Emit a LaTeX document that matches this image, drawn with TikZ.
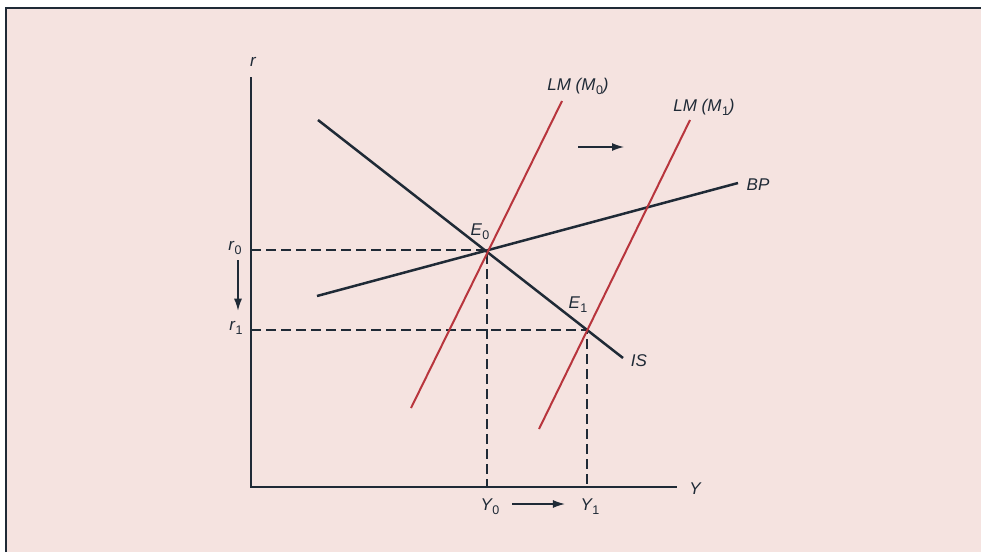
\documentclass[tikz,border=0pt]{standalone}
\usepackage{fontspec}
\setmainfont{Liberation Sans}
\usetikzlibrary{calc,arrows.meta}
\definecolor{Paper}{HTML}{F5E3E0}
\definecolor{Ink}{HTML}{1F2A36}
\definecolor{LMRed}{HTML}{B8353D}
\newcommand{\ix}[1]{\kern0.5pt\raisebox{-0.45ex}{\upshape\fontsize{12.5}{14}\selectfont #1}}

\begin{document}
\begin{tikzpicture}[x=1pt, y=-1pt,
    lbl/.style={Ink, inner sep=1pt, font=\fontsize{17}{20}\selectfont\itshape},
    curve/.style={Ink, line width=2.5pt},
    lmcurve/.style={LMRed, line width=2pt},
    guide/.style={Ink, line width=1.2pt, dash pattern=on 10pt off 5pt},
    movearrow/.style={Ink, line width=1.3pt, -{Latex[length=12pt, width=8pt]}}]

    \useasboundingbox (0,0) rectangle (981,552);
    \fill[white] (0,0) rectangle (981,552);
    \fill[Paper] (6,8) rectangle (981,552);
    \draw[Ink, line width=1.6pt] (6,552) -- (6,8) -- (981,8);

    % axes
    \coordinate (O) at (251,487);
    \coordinate (rtop) at (251,77);
    \coordinate (yend) at (677,487);
    \draw[Ink, line width=1.8pt] (rtop) -- (O) -- (yend);
    \node[lbl] (r) at (253,62) {r};
    \node[lbl] (Y) at (695,489) {Y};

    % equilibria
    \coordinate (E0) at (487,250);
    \coordinate (E1) at (587,330);

    % guide lines
    \coordinate (r0axis) at (O |- E0);
    \coordinate (r1axis) at (O |- E1);
    \coordinate (Y0axis) at (E0 |- O);
    \coordinate (Y1axis) at (E1 |- O);
    \draw[guide] (r0axis) -- (E0) -- (Y0axis);
    \draw[guide] (r1axis) -- (E1) -- (Y1axis);

    % IS and BP
    \coordinate (IS-a) at (318,120);
    \coordinate (IS-b) at (623,358);
    \coordinate (BP-a) at (317,296);
    \coordinate (BP-b) at (738,183);
    \draw[curve] (IS-a) -- (IS-b);
    \draw[curve] (BP-a) -- (BP-b);

    % LM curves
    \coordinate (LM0-a) at (411,408);
    \coordinate (LM0-b) at (562,101);
    \coordinate (LM1-a) at (539,429);
    \coordinate (LM1-b) at (690,120);
    \draw[lmcurve] (LM0-a) -- (LM0-b);
    \draw[lmcurve] (LM1-a) -- (LM1-b);

    % labels
    \node[lbl] (lm0) at (578,86) {LM (M\ix{0})};
    \node[lbl] (lm1) at (704,107) {LM (M\ix{1})};
    \node[lbl] (bp) at (758,185) {BP};
    \node[lbl] (is) at (639,361) {IS};
    \node[lbl] (e0) at (480,232) {E\ix{0}};
    \node[lbl] (e1) at (578,305) {E\ix{1}};
    \node[lbl] (r0) at (235,248) {r\ix{0}};
    \node[lbl] (r1) at (236,328) {r\ix{1}};
    \node[lbl] (y0) at (490,507) {Y\ix{0}};
    \node[lbl] (y1) at (590,507) {Y\ix{1}};

    % shifts
    \coordinate (lmshift-a) at (578,147);
    \coordinate (lmshift-b) at (624,147);
    \draw[movearrow] (lmshift-a) -- (lmshift-b);
    \draw[movearrow] ([xshift=3pt, yshift=-4.5pt]r0.south) -- ([xshift=2pt, yshift=9.5pt]r1.north);
    \draw[movearrow] ([xshift=11.5pt, yshift=3pt]y0.east) -- ([xshift=-14.5pt, yshift=3pt]y1.west);

\end{tikzpicture}
\end{document}
